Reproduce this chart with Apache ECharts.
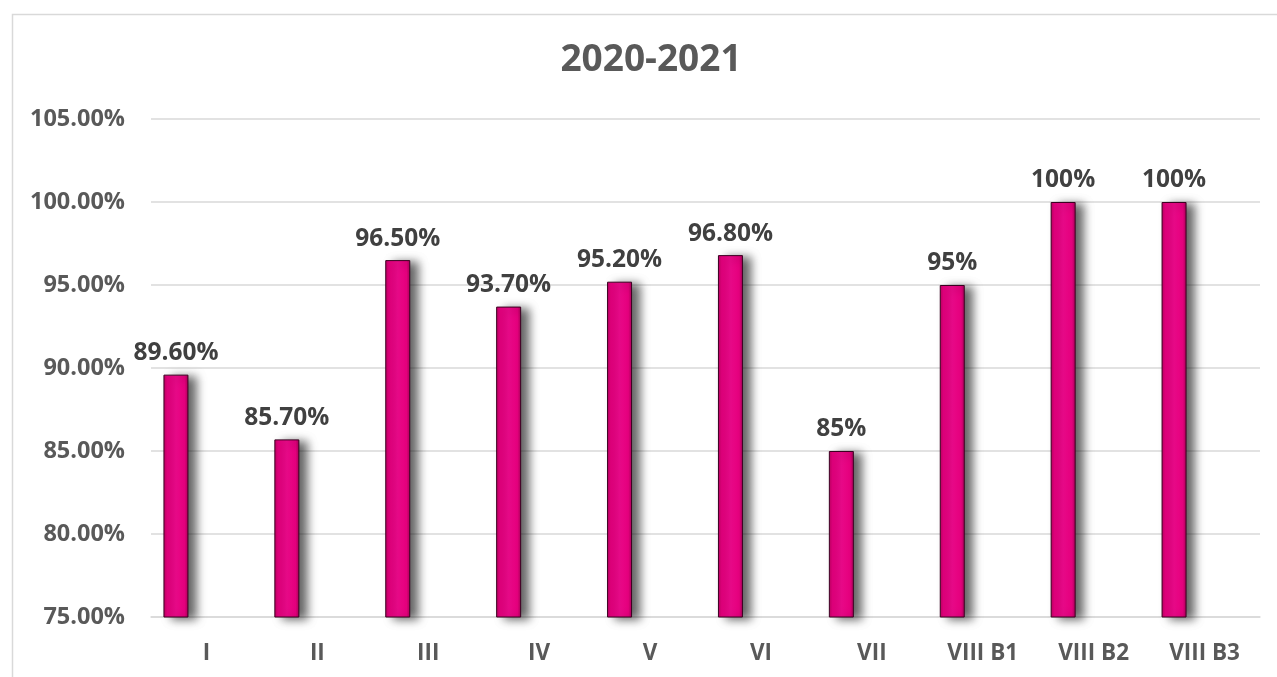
<!DOCTYPE html>
<html>
<head>
<meta charset="utf-8">
<script src="https://cdn.jsdelivr.net/npm/echarts@6/dist/echarts.min.js"></script>
<style>
html,body{margin:0;padding:0;background:#fff;}
#chart{width:1277px;height:677px;}
</style>
</head>
<body>
<div id="chart"></div>
<script>
const titleText = '2020-2021';
const categories = ['I','II','III','IV','V','VI','VII','VIII B1','VIII B2','VIII B3'];
const values = [89.6, 85.7, 96.5, 93.7, 95.2, 96.8, 85, 95, 100, 100];
const valueLabels = ['89.60%','85.70%','96.50%','93.70%','95.20%','96.80%','85%','95%','100%','100%'];
const placeholder = ['-','-','-','-','-','-','-','-','-','-'];
const yMin = 75, yMax = 105, yStep = 5;

const chart = echarts.init(document.getElementById('chart'));
const font = '"Open Sans", Lato, sans-serif';
chart.setOption({
  animation: false,
  backgroundColor: '#ffffff',
  graphic: [{
    type: 'rect', left: 10, top: 12,
    shape: {width: 1300, height: 700},
    style: {fill: 'none', stroke: '#d9d9d9', lineWidth: 1.5},
    silent: true
  }],
  title: {
    text: titleText, left: 646, top: 37, textAlign: 'center',
    textStyle: {fontFamily: font, fontWeight: 'bold', fontSize: 37, color: '#595959'}
  },
  grid: {left: 151, right: 17, top: 119, bottom: 60, containLabel: false},
  xAxis: {
    type: 'category', data: categories,
    axisLine: {lineStyle: {color: '#d9d9d9', width: 1.5}},
    axisTick: {show: false},
    axisLabel: {fontFamily: font, fontWeight: 'bold', fontSize: 22.5, color: '#595959', margin: 25}
  },
  yAxis: {
    type: 'value', min: yMin, max: yMax, interval: yStep,
    axisLine: {show: false}, axisTick: {show: false},
    splitLine: {lineStyle: {color: '#d9d9d9', width: 1.5}},
    axisLabel: {
      fontFamily: font, fontWeight: 'bold', fontSize: 23.5, color: '#595959', margin: 26,
      formatter: v => v.toFixed(2) + '%'
    }
  },
  series: [{
    type: 'bar', data: values, barWidth: 25, barGap: '144%',
    itemStyle: {
      color: new echarts.graphic.LinearGradient(0, 0, 1, 0, [
        {offset: 0, color: '#b8005f'},
        {offset: 0.15, color: '#e4007d'},
        {offset: 0.5, color: '#ef0a8c'},
        {offset: 0.85, color: '#e4007d'},
        {offset: 1, color: '#a80056'}
      ]),
      borderColor: '#3a0020', borderWidth: 1,
      shadowColor: 'rgba(0,0,0,0.6)', shadowBlur: 10, shadowOffsetX: 8, shadowOffsetY: 2
    },
    label: {
      show: true, position: 'top', distance: 9,
      fontFamily: font, fontWeight: 'bold', fontSize: 24.5, color: '#404040',
      formatter: p => valueLabels[p.dataIndex]
    }
  }, {
    type: 'bar', data: placeholder, barWidth: 25
  }]
});
</script>
</body>
</html>
